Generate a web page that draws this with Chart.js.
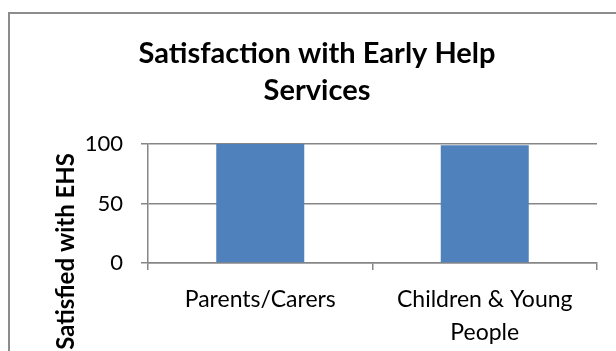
<!DOCTYPE html>
<html>
<head>
<meta charset="utf-8">
<script src="https://cdn.jsdelivr.net/npm/chart.js@4.4.1/dist/chart.umd.min.js"></script>
<style>
    html, body { margin: 0; padding: 0; background: #ffffff; overflow: hidden; }
    #chart-box { width: 616px; height: 351px; }
</style>
</head>
<body>
<div id="chart-box"><canvas id="ehs-chart" width="616" height="351"></canvas></div>
<script>
// Chart data
const chartTitle = ["Satisfaction with Early Help", "Services"];
const yAxisTitle = "Satisfied with EHS";
const categories = ["Parents/Carers", ["Children & Young", "People"]];
const satisfiedValues = [100, 99];
const yTicks = [0, 50, 100];

const fontFamily = "Lato, 'Open Sans', sans-serif";
const gridGrey = "#868686";

// Outer frame, title and rotated axis title
const decorations = {
    id: "decorations",
    beforeDraw(chart) {
        const ctx = chart.ctx;
        ctx.save();
        ctx.fillStyle = "#ffffff";
        ctx.fillRect(0, 0, chart.width, chart.height);
        ctx.strokeStyle = "#8c8c8c";
        ctx.lineWidth = 2;
        ctx.strokeRect(9, 13, 640, 420);
        ctx.restore();
    },
    afterDraw(chart) {
        const ctx = chart.ctx;
        ctx.save();
        ctx.fillStyle = "#000000";
        ctx.textAlign = "center";
        ctx.textBaseline = "alphabetic";
        ctx.font = "bold 29px " + fontFamily;
        ctx.fillText(chartTitle[0], 317, 63);
        ctx.fillText(chartTitle[1], 317, 100);

        ctx.translate(74, 153);
        ctx.rotate(-Math.PI / 2);
        ctx.font = "bold 24px " + fontFamily;
        ctx.textAlign = "right";
        ctx.fillText(yAxisTitle, 0, 0);
        ctx.restore();
    }
};

function renderSatisfactionChart() {
    const ctx = document.getElementById("ehs-chart").getContext("2d");

    new Chart(ctx, {
        type: "bar",
        data: {
            labels: categories,
            datasets: [{
                label: "Satisfied with EHS",
                data: satisfiedValues,
                backgroundColor: "#4f81bd",
                borderWidth: 0,
                categoryPercentage: 1,
                barPercentage: 0.392,
            }]
        },
        options: {
            responsive: false,
            animation: false,
            layout: { padding: { top: 144, right: 19, left: 0, bottom: 0 } },
            plugins: {
                legend: { display: false },
                title: { display: false },
                tooltip: { enabled: false },
            },
            scales: {
                x: {
                    afterFit: (scale) => { scale.height = 88; },
                    border: { color: gridGrey, width: 1.5 },
                    grid: {
                        offset: true,
                        drawOnChartArea: false,
                        drawTicks: true,
                        tickLength: 7,
                        color: gridGrey,
                        lineWidth: 1.5,
                    },
                    ticks: {
                        color: "#000000",
                        font: { family: fontFamily, size: 23, lineHeight: 1.43 },
                        padding: 13,
                        maxRotation: 0,
                    },
                },
                y: {
                    min: 0,
                    max: 100,
                    afterFit: (scale) => { scale.width = 148; },
                    afterBuildTicks: (scale) => {
                        scale.ticks = yTicks.map((v) => ({ value: v }));
                    },
                    border: { color: gridGrey, width: 1.5 },
                    grid: {
                        color: gridGrey,
                        lineWidth: 1.5,
                        drawTicks: true,
                        tickLength: 7,
                    },
                    ticks: {
                        color: "#000000",
                        font: { family: fontFamily, size: 22 },
                        padding: 18,
                    },
                },
            },
        },
        plugins: [decorations],
    });
}

document.addEventListener("DOMContentLoaded", () => {
    renderSatisfactionChart();
});
</script>
</body>
</html>
